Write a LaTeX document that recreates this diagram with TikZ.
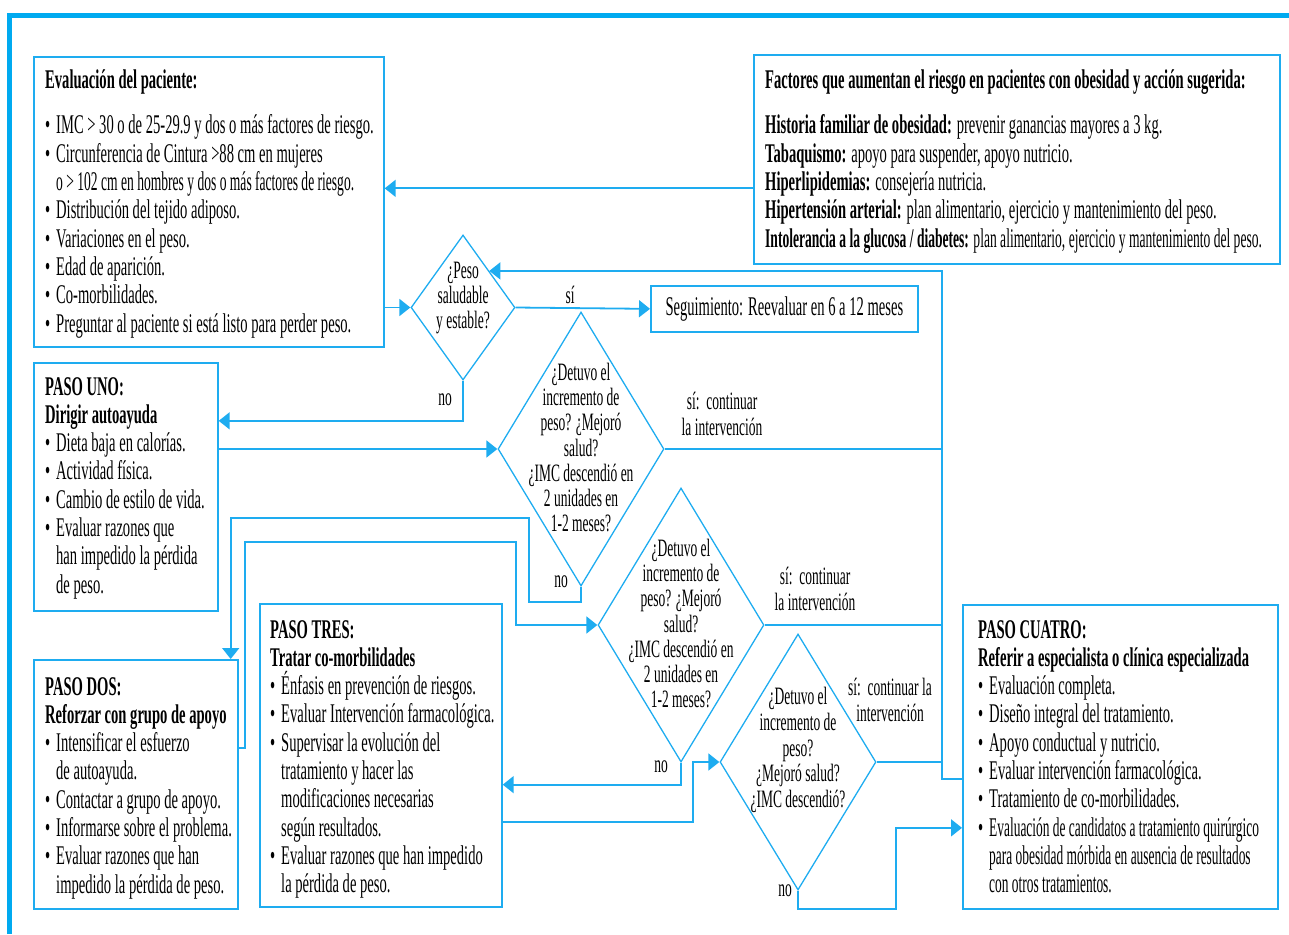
\documentclass[tikz,border=0pt]{standalone}
\usepackage{fontspec}
\setmainfont{Liberation Serif}[FakeStretch=0.54]
\usetikzlibrary{shapes.geometric,arrows.meta,calc}
\definecolor{flow}{RGB}{30,172,240}
\definecolor{frame}{RGB}{0,170,240}
\newcommand\bitem{\makebox[11pt][l]{\textbullet}}
\newcommand\bcont{\hspace*{11pt}}
\newcommand\narrow[2]{\scalebox{#1}[1]{#2}}
\begin{document}
\begin{tikzpicture}[x=1pt,y=-1pt,
  box/.style={draw=flow,line width=1.7pt,inner sep=0pt,anchor=north west},
  dia/.style={draw=flow,line width=1.3pt,diamond,inner sep=0pt},
  line/.style={draw=flow,line width=1.8pt},
  arr/.style={line,-{Triangle[length=11pt,width=17pt]}},
  txt/.style={inner sep=0pt,anchor=north west,align=left,font=\fontsize{27}{28.3}\selectfont},
  ctxt/.style={inner sep=0pt,align=center,font=\fontsize{25}{25.3}\selectfont},
  lbl/.style={inner sep=0pt,align=center,font=\fontsize{25}{26}\selectfont}]
\useasboundingbox (0,0) rectangle (1289,934);
% outer frame
\draw[frame,line width=4.5pt] (9.5,934) -- (9.5,15.5) -- (1289,15.5);

% boxes
\node[box,minimum width=350,minimum height=290] (ev) at (33,56) {};
\node[box,minimum width=526,minimum height=209] (fr) at (753,54) {};
\node[box,minimum width=267,minimum height=46] (seg) at (650,285) {};
\node[box,minimum width=184,minimum height=248] (p1) at (33,362) {};
\node[box,minimum width=204,minimum height=249] (p2) at (33,659) {};
\node[box,minimum width=242,minimum height=303] (p3) at (259,603) {};
\node[box,minimum width=315,minimum height=304] (p4) at (962,604) {};

% diamonds
\node[dia,minimum width=104,minimum height=145] (d1) at (463,307.5) {};
\node[dia,minimum width=166,minimum height=274] (d2) at (581,449) {};
\node[dia,minimum width=166,minimum height=274] (d3) at (681,625) {};
\node[dia,minimum width=156,minimum height=256] (d4) at (798,762) {};

% texts
\node[txt] (evT) at (45,70) {\textbf{Evaluación del paciente:}\\[16.7pt]
\bitem IMC > 30 o de 25-29.9 y dos o más factores de riesgo.\\
\bitem Circunferencia de Cintura >88 cm en mujeres\\
\bcont\narrow{0.93}{o > 102 cm en hombres y dos o más factores de riesgo.}\\
\bitem Distribución del tejido adiposo.\\
\bitem Variaciones en el peso.\\
\bitem Edad de aparición.\\
\bitem Co-morbilidades.\\
\bitem Preguntar al paciente si está listo para perder peso.};

\node[txt] (frT) at (765,70) {\textbf{Factores que aumentan el riesgo en pacientes con obesidad y acción sugerida:}\\[16.7pt]
\textbf{Historia familiar de obesidad:} prevenir ganancias mayores a 3 kg.\\
\textbf{Tabaquismo:} apoyo para suspender, apoyo nutricio.\\
\textbf{Hiperlipidemias:} consejería nutricia.\\
\textbf{Hipertensión arterial:} plan alimentario, ejercicio y mantenimiento del peso.\\
\narrow{0.93}{\textbf{Intolerancia a la glucosa / diabetes:} plan alimentario, ejercicio y mantenimiento del peso.}};

\node[txt,anchor=center] (segT) at (seg.center) {Seguimiento: Reevaluar en 6 a 12 meses};

\node[txt] (p1T) at (45,377) {\textbf{PASO UNO:}\\
\textbf{Dirigir autoayuda}\\
\bitem Dieta baja en calorías.\\
\bitem Actividad física.\\
\bitem Cambio de estilo de vida.\\
\bitem Evaluar razones que\\
\bcont han impedido la pérdida\\
\bcont de peso.};

\node[txt] (p2T) at (45,677) {\textbf{PASO DOS:}\\
\textbf{Reforzar con grupo de apoyo}\\
\bitem Intensificar el esfuerzo\\
\bcont de autoayuda.\\
\bitem Contactar a grupo de apoyo.\\
\bitem Informarse sobre el problema.\\
\bitem Evaluar razones que han\\
\bcont impedido la pérdida de peso.};

\node[txt] (p3T) at (270,620) {\textbf{PASO TRES:}\\
\textbf{Tratar co-morbilidades}\\
\bitem Énfasis en prevención de riesgos.\\
\bitem Evaluar Intervención farmacológica.\\
\bitem Supervisar la evolución del\\
\bcont tratamiento y hacer las\\
\bcont modificaciones necesarias\\
\bcont según resultados.\\
\bitem Evaluar razones que han impedido\\
\bcont la pérdida de peso.};

\node[txt] (p4T) at (978,620) {\textbf{PASO CUATRO:}\\
\textbf{Referir a especialista o clínica especializada}\\
\bitem Evaluación completa.\\
\bitem Diseño integral del tratamiento.\\
\bitem Apoyo conductual y nutricio.\\
\bitem Evaluar intervención farmacológica.\\
\bitem Tratamiento de co-morbilidades.\\
\bitem \narrow{0.92}{Evaluación de candidatos a tratamiento quirúrgico}\\
\bcont\narrow{0.92}{para obesidad mórbida en ausencia de resultados}\\
\bcont\narrow{0.92}{con otros tratamientos.}};

\node[ctxt] (d1T) at (463,298) {¿Peso\\saludable\\y estable?};
\node[ctxt] (d2T) at (581,447.5) {¿Detuvo el\\incremento de\\peso? ¿Mejoró\\salud?\\¿IMC descendió en\\2 unidades en\\1-2 meses?};
\node[ctxt] (d3T) at (681,623.5) {¿Detuvo el\\incremento de\\peso? ¿Mejoró\\salud?\\¿IMC descendió en\\2 unidades en\\1-2 meses?};
\node[ctxt,font=\fontsize{25}{25.8}\selectfont] (d4T) at (798,750) {¿Detuvo el\\incremento de\\peso?\\¿Mejoró salud?\\¿IMC descendió?};

% labels
\node[lbl] (l1) at (570,295) {sí};
\node[lbl] (l2) at (445,400) {no};
\node[lbl] (l3) at (561,582) {no};
\node[lbl] (l4) at (661,767) {no};
\node[lbl] (l5) at (785,891) {no};
\node[lbl] (l6) at (722,414) {sí:\ \ continuar\\la intervención};
\node[lbl] (l7) at (815,589) {sí:\ \ continuar\\la intervención};
\node[lbl] (l8) at (890,700) {sí:\ \ continuar la\\intervención};

% connectors
\coordinate (a1) at ([yshift=-29pt]fr.west);
\draw[arr] (a1) -- (a1 -| ev.east);
\draw[arr] (d1.west -| ev.east) -- (d1.west);
\draw[arr] (d1.east) -- (seg.west);
\coordinate (p1in) at ([yshift=66pt]p1.east);
\draw[arr] (d1.south) |- (p1in);
\draw[arr] (d2.west -| p1.east) -- (d2.west);
% d2 no -> p2
\coordinate (w1) at ($(d2.south)+(0,15)$);
\coordinate (w2) at (529,518);
\coordinate (p2in) at ([xshift=-8pt]p2.north east);
\draw[arr] (d2.south) -- (w1) -| (w2) -| (p2in);
% p2 -> d3
\coordinate (p2out) at ([yshift=36.5pt]p2.east);
\coordinate (w3) at (245,542);
\coordinate (w4) at (516,542);
\draw[arr] (p2out) -| (w3) -- (w4) |- (d3.west);
% d3 no -> p3
\coordinate (w5) at ($(d3.south)+(0,22)$);
\draw[arr] (d3.south) -- (w5) -- (w5 -| p3.east);
% p3 -> d4
\coordinate (p3out) at ([yshift=-66.5pt]p3.east);
\coordinate (w6) at ($(d4.west)+(-26,0)$);
\draw[arr] (p3out) -| (w6) -- (d4.west);
% d4 no -> p4
\coordinate (w7) at ($(d4.south)+(0,18)$);
\coordinate (w8) at (896,0);
\coordinate (p4in) at ([yshift=-71pt]p4.west);
\draw[arr] (d4.south) -- (w7) -- (w7 -| w8) |- (p4in);
% si lines
\coordinate (vbot) at (942,779);
\coordinate (p4j) at (vbot -| p4.west);
\draw[line] (d2.east) -- (d2.east -| vbot);
\draw[line] (d3.east) -- (d3.east -| vbot);
\draw[line] (d4.east) -- (d4.east -| vbot);
\draw[arr] (p4j) -- (vbot) -- (vbot |- d1.north east) -- (d1.north east);
\end{tikzpicture}
\end{document}
